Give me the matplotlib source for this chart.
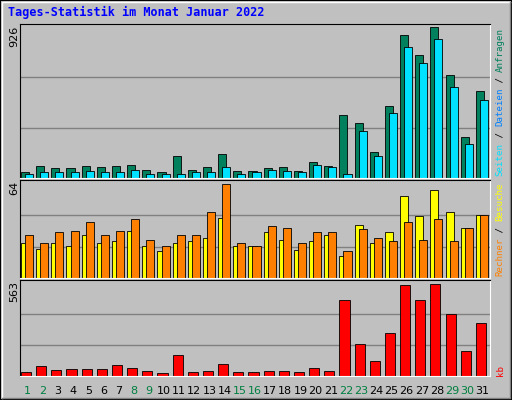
import matplotlib
matplotlib.use("Agg")
import matplotlib.pyplot as plt
import numpy as np

days = list(range(1, 32))
weekend = [1, 2, 8, 9, 15, 16, 22, 23, 29, 30]
hits = [38,71,59,59,71,65,71,78,46,34,134,52,65,147,40,40,59,65,40,96,71,385,335,159,442,876,756,926,631,253,536]
files = [27,34,34,34,40,34,34,46,27,27,27,34,34,65,27,34,46,40,34,78,65,27,291,134,398,806,706,851,561,210,480]
visits = [24,20,24,22,29,24,25,32,22,18,24,25,27,41,22,22,31,26,19,25,29,15,36,24,31,56,42,60,45,34,43]
sites = [29,24,31,32,38,29,32,40,26,22,29,29,45,64,24,22,35,34,24,31,31,18,33,27,25,38,26,40,25,34,43]
kbytes = [25,62,37,43,43,43,68,49,31,19,130,25,31,74,25,25,31,31,25,49,31,464,198,93,260,557,464,563,377,155,322]

W, H = 512, 400
fig = plt.figure(figsize=(W/100, H/100), dpi=100, facecolor="#C0C0C0")
mono = "DejaVu Sans Mono"
fig.add_artist(plt.Rectangle((0, 0), 1, 1, transform=fig.transFigure, fill=False, ec="black", lw=1.5))
fig.add_artist(plt.Line2D([2/W, 2/W, 1-2/W], [2/H, 1-2/H, 1-2/H], transform=fig.transFigure, color="white", lw=1))
fig.add_artist(plt.Line2D([2/W, 1-2/W, 1-2/W], [2/H, 2/H, 1-2/H], transform=fig.transFigure, color="#808080", lw=1))

def mkax(top, bot):
    ax = fig.add_axes([20/W, 1-bot/H, 470/W, (bot-top)/H])
    ax.set_facecolor("#C0C0C0")
    ax.set_xlim(0.5, 31.5)
    for s in ax.spines.values():
        s.set_color("black")
    ax.spines["right"].set_color("white"); ax.spines["bottom"].set_color("white")
    ax.set_xticks([]); ax.set_yticks([])
    return ax

x = np.array(days, dtype=float)
bw = 8/15

ax1 = mkax(24, 178)
ax1.set_ylim(0, 926*1.02)
for g in (926/3, 2*926/3):
    ax1.axhline(g, color="#808080", lw=1, zorder=0)
ax1.bar(x-0.5+1/15, hits, width=bw, align="edge", color="#00805C", ec="black", lw=0.6)
ax1.bar(x-0.5+5/15, files, width=bw, align="edge", color="#00E0FF", ec="black", lw=0.6)

ax2 = mkax(180, 278)
ax2.set_ylim(0, 64*1.04)
for g in (64/3, 2*64/3):
    ax2.axhline(g, color="#808080", lw=1, zorder=0)
ax2.bar(x-0.5+1/15, visits, width=bw, align="edge", color="#FFFF00", ec="black", lw=0.6)
ax2.bar(x-0.5+5/15, sites, width=bw, align="edge", color="#FF8000", ec="black", lw=0.6)

ax3 = mkax(280, 376)
ax3.set_ylim(0, 563*1.04)
for g in (563/3, 2*563/3):
    ax3.axhline(g, color="#808080", lw=1, zorder=0)
ax3.bar(x-0.5+1/15, kbytes, width=10/15, align="edge", color="#FF0000", ec="black", lw=0.6)
for d in days:
    ax3.text(d, -0.1, str(d), transform=ax3.get_xaxis_transform(), ha="center", va="top",
             fontsize=8, color="#008040" if d in weekend else "black")

fig.text(8/W, 1-12/H, "Tages-Statistik im Monat Januar 2022", color="#0000FF",
         fontsize=8.5, fontweight="bold", family=mono, va="center")
for ytop, lab in ((26, "926"), (181, "64"), (281, "563")):
    fig.text(14/W, 1-ytop/H, lab, rotation=90, ha="center", va="top", fontsize=8)

FS = 6.6
CH = 0.6 * FS * 100 / 72
def rlabel(pieces, ybot):
    y = ybot
    for txt, col in pieces:
        fig.text(500/W, 1-y/H, txt, rotation=90, color=col, fontsize=FS, family=mono,
                 ha="center", va="bottom")
        y -= len(txt) * CH
rlabel([("Seiten", "#00E0FF"), (" / ", "#000000"), ("Dateien", "#0080FF"), (" / ", "#000000"), ("Anfragen", "#00805C")], 176)
rlabel([("Rechner", "#FF8000"), (" / ", "#000000"), ("Besuche", "#FFFF00")], 276)
rlabel([("kb", "#FF0000")], 376)

fig.savefig("out.png", dpi=100, facecolor=fig.get_facecolor())
